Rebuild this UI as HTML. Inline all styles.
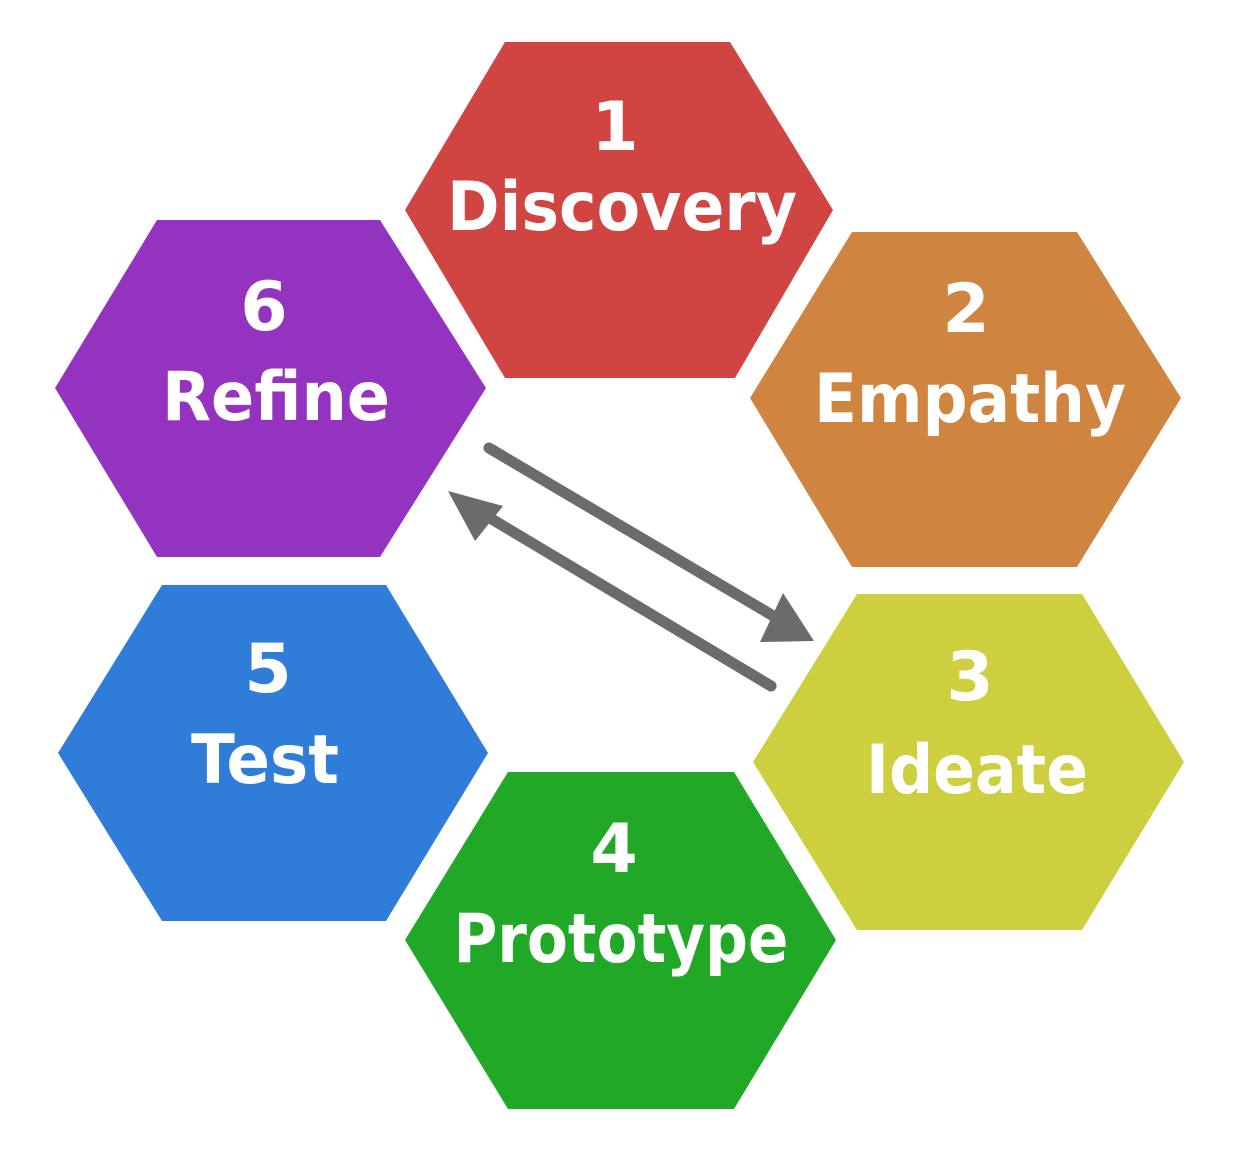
<!DOCTYPE html>
<html><head><meta charset="utf-8"><style>html,body{margin:0;padding:0;background:#fff}</style></head>
<body>
<svg width="1243" height="1149" viewBox="0 0 1243 1149" xmlns="http://www.w3.org/2000/svg">
<g font-family="'DejaVu Sans','Liberation Sans',sans-serif" font-weight="bold" fill="#fff" text-anchor="middle">
<polygon points="505,42 730,42 833,210 735,378 505,378 405,210" fill="#d04441"/>
<polygon points="852,232 1077,232 1181,398 1077,567 852,567 750,398" fill="#cf8540"/>
<polygon points="857,594 1082,594 1184,762 1082,930 857,930 753,762" fill="#cdcf3f"/>
<polygon points="508,772 734,772 836,940 734,1109 508,1109 405,940" fill="#21a827"/>
<polygon points="162,585 386,585 488,753 386,921 162,921 58,753" fill="#307cd9"/>
<polygon points="157,220 380,220 486,388 380,557 157,557 55,388" fill="#9433bf"/>
<text x="615" y="150" font-size="68">1</text>
<text x="622" y="230" font-size="68" textLength="350" lengthAdjust="spacingAndGlyphs">Discovery</text>
<text x="966" y="332" font-size="68">2</text>
<text x="970" y="422" font-size="68" textLength="312" lengthAdjust="spacingAndGlyphs">Empathy</text>
<text x="970" y="700" font-size="68">3</text>
<text x="977" y="793" font-size="68" textLength="222" lengthAdjust="spacingAndGlyphs">Ideate</text>
<text x="614" y="872" font-size="68">4</text>
<text x="621" y="962" font-size="68" textLength="335" lengthAdjust="spacingAndGlyphs">Prototype</text>
<text x="268" y="692" font-size="68">5</text>
<text x="265" y="783" font-size="68" textLength="148" lengthAdjust="spacingAndGlyphs">Test</text>
<text x="264" y="330" font-size="68">6</text>
<text x="276" y="420" font-size="68" textLength="228" lengthAdjust="spacingAndGlyphs">Refine</text>
</g>
<g stroke="#6b6b6b" stroke-width="11" stroke-linecap="round" fill="#6b6b6b">
<line x1="489" y1="448" x2="775" y2="617"/>
<line x1="771" y1="686" x2="485" y2="515"/>
</g>
<g fill="#6b6b6b">
<polygon points="783,593 814,641 760,642"/>
<polygon points="448,491 503,506 475,541"/>
</g>
</svg>
</body></html>
